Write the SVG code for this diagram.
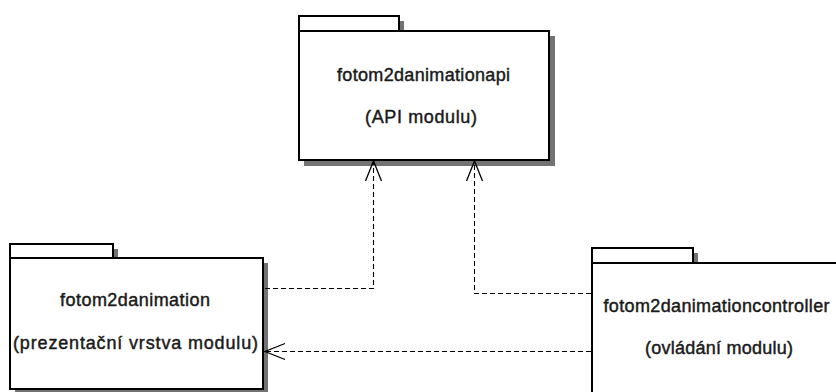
<svg xmlns="http://www.w3.org/2000/svg" width="836" height="392" viewBox="0 0 836 392">
<style>
.shadow{fill:#737373;stroke:none}
.box{fill:#fff;stroke:#000;stroke-width:2}
.lbl{font-family:"Liberation Sans",Arial,sans-serif;font-size:18px;fill:#1a1a1a;stroke:#1a1a1a;stroke-width:0.45}
.dep{fill:none;stroke:#000;stroke-width:1.1;stroke-dasharray:5,3}
</style>
<defs>
<marker id="open" markerWidth="24" markerHeight="20" viewBox="-22 -10 24 20" refX="0" refY="0" orient="auto" markerUnits="userSpaceOnUse">
<path d="M-20,-8 L0,0 L-20,8" fill="none" stroke="#000" stroke-width="1.3" stroke-dasharray="none"/>
</marker>
</defs>
<rect width="836" height="392" fill="#fff"/>
<g id="fotom2danimationapi">
<rect class="shadow" x="304" y="21" width="100" height="15"/>
<rect class="shadow" x="304" y="36" width="251" height="130"/>
<rect class="box" x="299" y="16" width="100" height="15"/>
<rect class="box" x="299" y="31" width="250" height="129"/>
<text class="lbl" x="337" y="81" textLength="173" lengthAdjust="spacing">fotom2danimationapi</text>
<text class="lbl" x="365" y="123" textLength="112" lengthAdjust="spacing">(API modulu)</text>
</g>
<g id="fotom2danimation">
<rect class="shadow" x="15" y="249" width="103" height="14"/>
<rect class="shadow" x="15" y="263" width="253" height="131"/>
<rect class="box" x="10" y="244" width="103" height="14"/>
<rect class="box" x="10" y="258" width="253" height="131"/>
<text class="lbl" x="60" y="306" textLength="150" lengthAdjust="spacing">fotom2danimation</text>
<text class="lbl" x="13" y="349" textLength="245" lengthAdjust="spacing">(prezentační vrstva modulu)</text>
</g>
<g id="fotom2danimationcontroller">
<rect class="shadow" x="597" y="253" width="101" height="15"/>
<rect class="shadow" x="597" y="268" width="260" height="140"/>
<rect class="box" x="592" y="248" width="101" height="15"/>
<rect class="box" x="592" y="263" width="260" height="140"/>
<text class="lbl" x="603.5" y="311.5" textLength="226" lengthAdjust="spacing">fotom2danimationcontroller</text>
<text class="lbl" x="645" y="353.5" textLength="148" lengthAdjust="spacing">(ovládání modulu)</text>
</g>
<g id="connectors">
<path class="dep" d="M265,288.5 H373.5 V161" marker-end="url(#open)"/>
<path class="dep" d="M591,293.5 H474.5 V161" marker-end="url(#open)"/>
<path class="dep" d="M591,351.5 H265" marker-end="url(#open)"/>
</g>
</svg>
